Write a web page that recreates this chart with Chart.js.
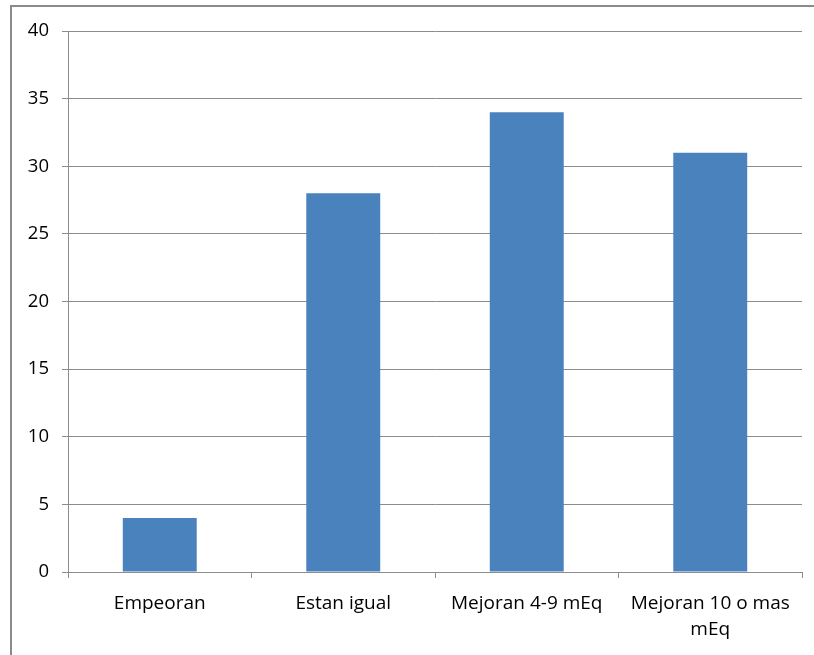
<!DOCTYPE html>
<html><head><meta charset="utf-8">
<script src="https://cdn.jsdelivr.net/npm/chart.js@4/dist/chart.umd.min.js"></script>
<style>html,body{margin:0;padding:0;background:#fff}#wrap{width:814px;height:655px;position:relative}</style>
</head><body><div id="wrap"><canvas id="c" width="814" height="655"></canvas></div>
<script>
const categories = ["Empeoran", "Estan igual", "Mejoran 4-9 mEq", ["Mejoran 10 o mas", "mEq"]];
const values = [4, 28, 34, 31];
const yTicks = [0, 5, 10, 15, 20, 25, 30, 35, 40];

const framePlugin = {
  id: 'frame',
  beforeDraw(chart) {
    const ctx = chart.ctx;
    ctx.save();
    ctx.fillStyle = '#fff';
    ctx.fillRect(0, 0, chart.width, chart.height);
    ctx.strokeStyle = '#8a8a8a';
    ctx.lineWidth = 2;
    ctx.strokeRect(11, 6, 900, 900);
    ctx.restore();
  }
};

new Chart(document.getElementById('c'), {
  type: 'bar',
  data: { labels: categories, datasets: [{ data: values, backgroundColor: '#4a82be', categoryPercentage: 0.403, barPercentage: 1 }] },
  options: {
    responsive: false, animation: false,
    layout: { padding: { left: 0, top: 31, right: 12, bottom: 0 } },
    plugins: { legend: { display: false }, tooltip: { enabled: false } },
    scales: {
      y: {
        min: 0, max: 40,
        afterBuildTicks(s) { s.ticks = yTicks.map(v => ({ value: v })); },
        afterFit(s) { s.width = 68; },
        grid: { color: '#8c8c8c', lineWidth: 1, tickLength: 6 },
        border: { color: '#8c8c8c' },
        ticks: { color: '#000', font: { family: 'Open Sans', size: 18.5 }, padding: 13 }
      },
      x: {
        afterFit(s) { s.height = 655 - 572; },
        grid: { offset: true, drawOnChartArea: false, drawTicks: true, tickLength: 6, color: '#8c8c8c' },
        border: { color: '#8c8c8c' },
        ticks: { color: '#000', font: { family: 'Open Sans', size: 19, lineHeight: 1.35 }, padding: 13, maxRotation: 0, autoSkip: false }
      }
    }
  },
  plugins: [framePlugin]
});
</script></body></html>
